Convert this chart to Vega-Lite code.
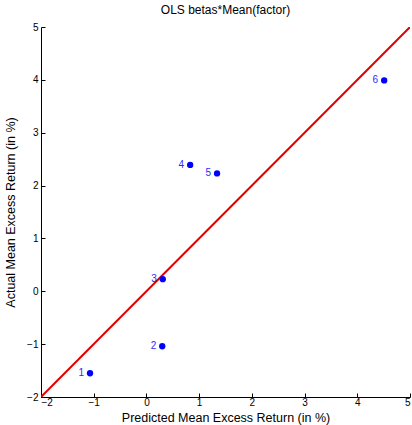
{
  "$schema": "https://vega.github.io/schema/vega-lite/v6.json",
  "width": 369,
  "height": 370,
  "autosize": {"type": "none"},
  "padding": {"left": 41, "top": 27, "right": 2, "bottom": 28},
  "background": "white",
  "title": {"text": "OLS betas*Mean(factor)", "font": "Liberation Sans", "fontSize": 12, "fontWeight": "normal", "color": "black", "offset": 5, "anchor": "middle"},
  "config": {
    "view": {"stroke": null},
    "axis": {"grid": false, "domainColor": "black", "tickColor": "black", "labelColor": "black", "titleColor": "black", "labelFont": "Liberation Sans", "titleFont": "Liberation Sans", "labelFontSize": 10, "titleFontSize": 12.5, "titleFontWeight": "normal", "tickSize": -4, "domainWidth": 1, "tickWidth": 1, "format": "d"}
  },
  "datasets": {
    "pts": [
      {"label": "1", "pred": -1.07, "actual": -1.55},
      {"label": "2", "pred": 0.30, "actual": -1.04},
      {"label": "3", "pred": 0.31, "actual": 0.23},
      {"label": "4", "pred": 0.83, "actual": 2.39},
      {"label": "5", "pred": 1.34, "actual": 2.23},
      {"label": "6", "pred": 4.51, "actual": 3.99}
    ],
    "diag": [
      {"pred": -2, "actual": -2},
      {"pred": 5, "actual": 5}
    ]
  },
  "layer": [
    {
      "data": {"name": "diag"},
      "mark": {"type": "line", "color": "#e00000", "strokeWidth": 2, "clip": true},
      "encoding": {
        "x": {"field": "pred", "type": "quantitative", "scale": {"domain": [-2, 5], "nice": false, "zero": false}, "axis": {"values": [-2, -1, 0, 1, 2, 3, 4, 5], "format": "d", "title": "Predicted Mean Excess Return (in %)", "labelPadding": 4, "titlePadding": 4}},
        "y": {"field": "actual", "type": "quantitative", "scale": {"domain": [-2, 5], "nice": false, "zero": false}, "axis": {"values": [-2, -1, 0, 1, 2, 3, 4, 5], "format": "d", "title": "Actual Mean Excess Return (in %)", "labelPadding": 7, "titlePadding": 9}}
      }
    },
    {
      "data": {"name": "pts"},
      "mark": {"type": "circle", "color": "#0000ff", "opacity": 1, "size": 40},
      "encoding": {
        "x": {"field": "pred", "type": "quantitative"},
        "y": {"field": "actual", "type": "quantitative"}
      }
    },
    {
      "data": {"name": "pts"},
      "mark": {"type": "text", "color": "#2a2aff", "font": "Liberation Sans", "fontSize": 10, "align": "right", "baseline": "middle", "dx": -6},
      "encoding": {
        "x": {"field": "pred", "type": "quantitative"},
        "y": {"field": "actual", "type": "quantitative"},
        "text": {"field": "label"}
      }
    }
  ]
}
